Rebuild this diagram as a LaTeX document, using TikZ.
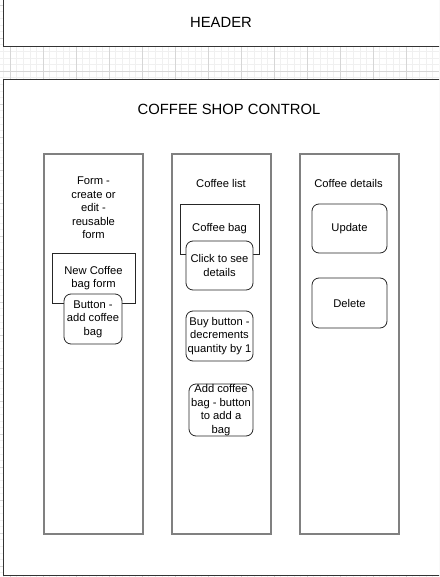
\documentclass[tikz,border=0pt]{standalone}
\usepackage{fontspec}
\setmainfont{Liberation Sans}
\usetikzlibrary{positioning}
\colorlet{gridgray}{black!16}
\colorlet{gridfaint}{black!6}
\tikzstyle{panel}=[draw=black!80,line width=1pt,fill=white]
\tikzstyle{column}=[draw=black!50,line width=1.2pt,fill=white,
  minimum width=99pt,minimum height=380pt]
\tikzstyle{item}=[draw=black!85,line width=.8pt,fill=white,inner sep=0pt,
  align=center,font=\small]
\tikzstyle{btn}=[item,rounded corners=7pt]
\tikzstyle{lbl}=[inner sep=0pt,align=center,font=\small]
\tikzstyle{title}=[inner sep=0pt,font=\large]
\renewcommand{\small}{\fontsize{11.2}{13.6}\selectfont}
\renewcommand{\large}{\fontsize{14.8}{17}\selectfont}

\begin{document}
\begin{tikzpicture}[x=1pt, y=-1pt, node distance=128pt, on grid]
  \useasboundingbox (0,0) rectangle (439,577);
  \begin{scope}
    \clip (0,0) rectangle (439,577);
    % grid paper
    \foreach \k in {-1,...,66} \draw[gridfaint] ({10+6.6*\k},0) -- ++(0,577);
    \foreach \k in {-1,...,87} \draw[gridfaint] (0,{5+6.6*\k}) -- ++(439,0);
    \foreach \k in {0,...,13} \draw[gridgray] ({10+33*\k},0) -- ++(0,577);
    \foreach \k in {0,...,17} \draw[gridgray] (0,{5+33*\k}) -- ++(439,0);

    \draw[panel] (3,-5) rectangle (470,47);
    \draw[panel] (3,80) rectangle (470,575);
  \end{scope}
  \node[title] (header) at (221,22) {HEADER};
  \node[title] (control) at (229,109) {COFFEE SHOP CONTROL};

  \node[column] (form) at (93.5,344) {};
  \node[column, right=of form] (list) {};
  \node[column, right=of list] (details) {};

  % form column
  \node[lbl] (formtitle) at (93.5,208) {Form -\\create or\\edit -\\reusable\\form};
  \node[item, minimum width=83pt, minimum height=50pt] (bagform) at (93.5,278)
    {New Coffee\\bag form};
  \node[btn, minimum width=58pt, minimum height=50pt] (addbtn) at (93,319)
    {Button -\\add coffee\\bag};

  % list column
  \node[lbl] (listtitle) at (221,183) {Coffee list};
  \node[item, minimum width=79pt, minimum height=50pt] (bag) at (219.5,229)
    {Coffee bag};
  \node[btn, minimum width=67pt, minimum height=49pt] (click) at (219.5,265.5)
    {Click to see\\details};
  \node[btn, minimum width=67pt, minimum height=50pt] (buy) at (219.5,336)
    {Buy button -\\decrements\\quantity by 1};
  \node[btn, minimum width=64pt, minimum height=52pt] (addbag) at (221,410)
    {Add coffee\\bag - button\\to add a\\bag};

  % details column
  \node[lbl] (detailstitle) at (348.5,183) {Coffee details};
  \node[btn, minimum width=75pt, minimum height=49pt] (update) at (349.5,228.5)
    {Update};
  \node[btn, minimum width=75pt, minimum height=50pt] (delete) at (349.5,303)
    {Delete};
\end{tikzpicture}
\end{document}
